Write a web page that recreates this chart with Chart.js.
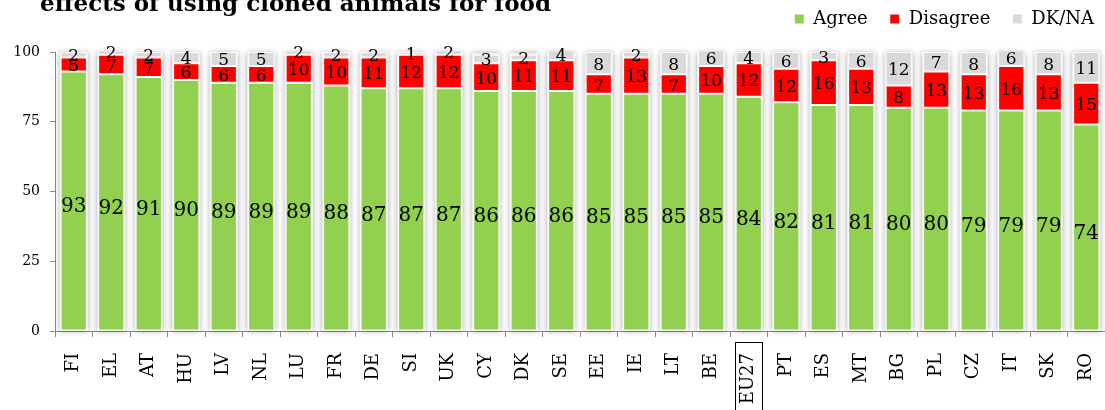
<!DOCTYPE html>
<html lang="en">
<head>
  <meta charset="UTF-8" />
  <title>Cloned animals for food</title>
  <script src="https://cdn.jsdelivr.net/npm/chart.js"></script>
  <style>
    html, body {
      margin: 0;
      padding: 0;
      background: #fff;
      overflow: hidden;
    }
    .wrap {
      position: relative;
      width: 1105px;
      height: 410px;
    }
    .title {
      position: absolute;
      left: 40px;
      top: -9px;
      font-family: 'DejaVu Serif', serif;
      font-weight: bold;
      font-size: 23px;
      line-height: 24px;
      color: #000;
      white-space: nowrap;
    }
    canvas {
      display: block;
    }
  </style>
</head>
<body>
  <div class="wrap">
    <canvas id="chart" width="1105" height="410"></canvas>
    <div class="title">effects of using cloned animals for food</div>
  </div>

  <script>
    const countries = ['FI', 'EL', 'AT', 'HU', 'LV', 'NL', 'LU', 'FR', 'DE', 'SI', 'UK', 'CY', 'DK', 'SE',
      'EE', 'IE', 'LT', 'BE', 'EU27', 'PT', 'ES', 'MT', 'BG', 'PL', 'CZ', 'IT', 'SK', 'RO'];
    const agree = [93, 92, 91, 90, 89, 89, 89, 88, 87, 87, 87, 86, 86, 86,
      85, 85, 85, 85, 84, 82, 81, 81, 80, 80, 79, 79, 79, 74];
    const disagree = [5, 7, 7, 6, 6, 6, 10, 10, 11, 12, 12, 10, 11, 11,
      7, 13, 7, 10, 12, 12, 16, 13, 8, 13, 13, 16, 13, 15];
    const dkna = [2, 2, 2, 4, 5, 5, 2, 2, 2, 1, 2, 3, 2, 4,
      8, 2, 8, 6, 4, 6, 3, 6, 12, 7, 8, 6, 8, 11];
    const yTicks = [0, 25, 50, 75, 100];
    const boxedLabel = 'EU27';

    const serif = "'DejaVu Serif', serif";

    // soft grey frame behind every column
    const columnShade = {
      id: 'columnShade',
      beforeDatasetsDraw(chart) {
        const ctx = chart.ctx;
        const meta = chart.getDatasetMeta(0);
        const y = chart.scales.y;
        const top = y.getPixelForValue(100) + 1;
        const bottom = y.getPixelForValue(0);
        ctx.save();
        meta.data.forEach(bar => {
          const w = bar.width;
          ctx.shadowColor = 'rgba(0,0,0,0.35)';
          ctx.shadowBlur = 6;
          ctx.fillStyle = '#f2f2f2';
          ctx.fillRect(bar.x - w / 2 - 1, top, w + 2, bottom - top);
        });
        ctx.restore();
      }
    };

    // numbers in the middle of each segment
    const segmentLabels = {
      id: 'segmentLabels',
      afterDatasetsDraw(chart) {
        const ctx = chart.ctx;
        ctx.save();
        ctx.fillStyle = '#000';
        ctx.textAlign = 'center';
        ctx.textBaseline = 'middle';
        chart.data.datasets.forEach((ds, di) => {
          const meta = chart.getDatasetMeta(di);
          ctx.font = (di === 0 ? '20px ' : '17px ') + serif;
          meta.data.forEach((bar, i) => {
            const mid = (bar.y + bar.base) / 2;
            ctx.fillText(String(ds.data[i]), bar.x, mid + (di === 0 ? 6 : 2));
          });
        });
        ctx.restore();
      }
    };

    // frame round the EU27 label
    const boxLabel = {
      id: 'boxLabel',
      afterDraw(chart) {
        const i = countries.indexOf(boxedLabel);
        if (i < 0) return;
        const x = chart.scales.x.getPixelForValue(i);
        const ctx = chart.ctx;
        ctx.save();
        ctx.strokeStyle = '#000';
        ctx.lineWidth = 1;
        ctx.strokeRect(Math.round(x) - 13.5, 342.5, 27, 80);
        ctx.restore();
      }
    };

    // nudge the legend up into the title row
    const legendShift = {
      id: 'legendShift',
      afterLayout(chart) {
        const lg = chart.legend;
        if (!lg) return;
        lg.left += 8; lg.right += 8;
        lg.top -= 14; lg.bottom -= 14;
      }
    };

    const ctx = document.getElementById('chart').getContext('2d');
    const chart = new Chart(ctx, {
      type: 'bar',
      data: {
        labels: countries,
        datasets: [
          { label: 'Agree', data: agree, backgroundColor: '#92d050' },
          { label: 'Disagree', data: disagree, backgroundColor: '#ff0000' },
          { label: 'DK/NA', data: dkna, backgroundColor: '#d9d9d9' }
        ].map(d => Object.assign(d, {
          borderColor: '#ffffff',
          borderWidth: 1,
          borderSkipped: false,
          categoryPercentage: 1,
          barPercentage: 0.7
        }))
      },
      options: {
        responsive: false,
        animation: false,
        events: [],
        layout: { padding: { top: 2, right: -3, bottom: 0, left: 0 } },
        plugins: {
          legend: {
            position: 'top',
            align: 'end',
            labels: {
              boxWidth: 10,
              boxHeight: 10,
              color: '#000',
              padding: 22,
              font: { family: serif, size: 18 }
            }
          },
          tooltip: { enabled: false }
        },
        scales: {
          x: {
            stacked: true,
            afterFit: s => { s.height = 79; s.paddingLeft = 0; s.paddingRight = 0; },
            border: { color: '#888', width: 1 },
            grid: { display: true, drawOnChartArea: false, offset: true, tickLength: 6, color: '#888' },
            ticks: {
              color: '#000',
              minRotation: 90,
              maxRotation: 90,
              padding: 16,
              font: { family: serif, size: 18 }
            }
          },
          y: {
            stacked: true,
            min: 0,
            max: 100,
            afterFit: s => { s.width = 55; },
            afterBuildTicks: s => { s.ticks = yTicks.map(v => ({ value: v })); },
            border: { color: '#888', width: 1 },
            grid: { display: true, drawOnChartArea: false, tickLength: 5, color: '#888' },
            ticks: {
              color: '#000',
              padding: 10,
              font: { family: serif, size: 14 }
            }
          }
        }
      },
      plugins: [columnShade, segmentLabels, boxLabel, legendShift]
    });
  </script>
</body>
</html>
